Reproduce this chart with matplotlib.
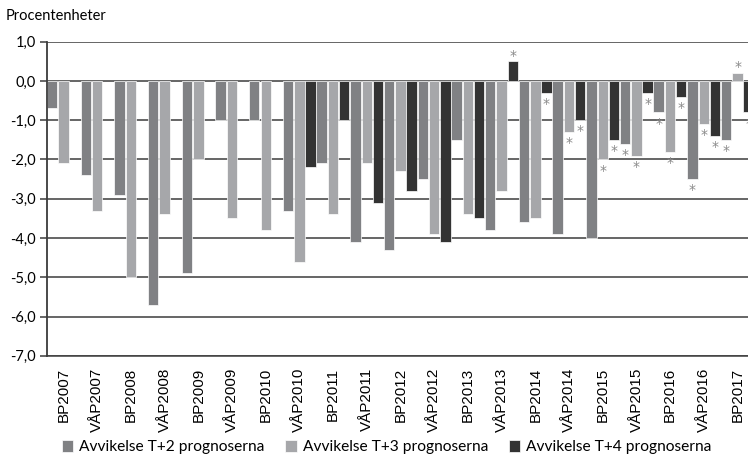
import numpy as np
import matplotlib.pyplot as plt

# Kategorier (budgetpropositioner / vårpropositioner)
categories = ['BP2007', 'VÅP2007', 'BP2008', 'VÅP2008', 'BP2009', 'VÅP2009',
              'BP2010', 'VÅP2010', 'BP2011', 'VÅP2011', 'BP2012', 'VÅP2012',
              'BP2013', 'VÅP2013', 'BP2014', 'VÅP2014', 'BP2015', 'VÅP2015',
              'BP2016', 'VÅP2016', 'BP2017']

nan = np.nan
t2 = [-0.7, -2.4, -2.9, -5.7, -4.9, -1.0, -1.0, -3.3, -2.1, -4.1, -4.3, -2.5,
      -1.5, -3.8, -3.6, -3.9, -4.0, -1.6, -0.8, -2.5, -1.5]
t3 = [-2.1, -3.3, -5.0, -3.4, -2.0, -3.5, -3.8, -4.6, -3.4, -2.1, -2.3, -3.9,
      -3.4, -2.8, -3.5, -1.3, -2.0, -1.9, -1.8, -1.1, 0.2]
t4 = [nan, nan, nan, nan, nan, nan, nan, -2.2, -1.0, -3.1, -2.8, -4.1,
      -3.5, 0.5, -0.3, -1.0, -1.5, -0.3, -0.4, -1.4, -0.8]

# preliminära utfall (markeras med *)
prel_t2 = [False] * 17 + [True] * 4
prel_t3 = [False] * 15 + [True] * 6
prel_t4 = [False] * 13 + [True] * 8

series = [
    ('Avvikelse T+2 prognoserna', t2, prel_t2, '#808184'),
    ('Avvikelse T+3 prognoserna', t3, prel_t3, '#a6a7aa'),
    ('Avvikelse T+4 prognoserna', t4, prel_t4, '#333333'),
]

plt.rcParams['font.family'] = ['Lato', 'DejaVu Sans']

fig = plt.figure(figsize=(7.48, 4.63), dpi=100)
ax = fig.add_axes([0.0624, 0.2315, 0.9376, 0.6785])

x = np.arange(len(categories))
offsets = [0.16, 0.5, 0.83]
width = 0.31

for (name, vals, prel, col), off in zip(series, offsets):
    vals = np.array(vals, dtype=float)
    ax.bar(x + off, vals, width, color=col, edgecolor='white', linewidth=0.5,
           label=name, zorder=2)
    for xi, v, p in zip(x, vals, prel):
        if p and not np.isnan(v):
            if v >= 0:
                ax.annotate('*', (xi + off, v), xytext=(0, -1), textcoords='offset points',
                            ha='center', va='bottom', fontsize=10, color='#8a8a8a',
                            family='DejaVu Sans', annotation_clip=False)
            else:
                ax.annotate('*', (xi + off, v), xytext=(0, -3), textcoords='offset points',
                            ha='center', va='top', fontsize=10, color='#8a8a8a',
                            family='DejaVu Sans', annotation_clip=False)

ax.set_xlim(0, 20.81)
ax.set_ylim(-7, 1)
yt = np.arange(-7, 2, 1)
ax.set_yticks(yt)
ax.set_yticklabels([f'{v:.1f}'.replace('.', ',') for v in yt], fontsize=10.5)
for v in yt:
    ax.axhline(v, color='#3c3c3c', linewidth=1.1, zorder=1)

ax.set_xticks(x + 0.5)
ax.set_xticklabels(categories, rotation=90, fontsize=11, family='Liberation Sans')
ax.tick_params(axis='x', length=0, pad=8.5)
ax.tick_params(axis='y', length=5, width=1.1, color='#3c3c3c', pad=3)

for s in ['top', 'right']:
    ax.spines[s].set_visible(False)
ax.spines['left'].set_color('#3c3c3c')
ax.spines['left'].set_linewidth(1.3)
ax.spines['bottom'].set_color('#3c3c3c')
ax.spines['bottom'].set_linewidth(1.1)

fig.text(0.008, 0.965, 'Procentenheter', fontsize=10.5, ha='left', va='center')

fig.legend(loc='center', bbox_to_anchor=(0.517, 0.034), ncol=3, frameon=False,
           fontsize=11.2, handlelength=0.75, handleheight=0.75, handletextpad=0.4,
           columnspacing=1.3)

plt.savefig('out.png', dpi=100)
